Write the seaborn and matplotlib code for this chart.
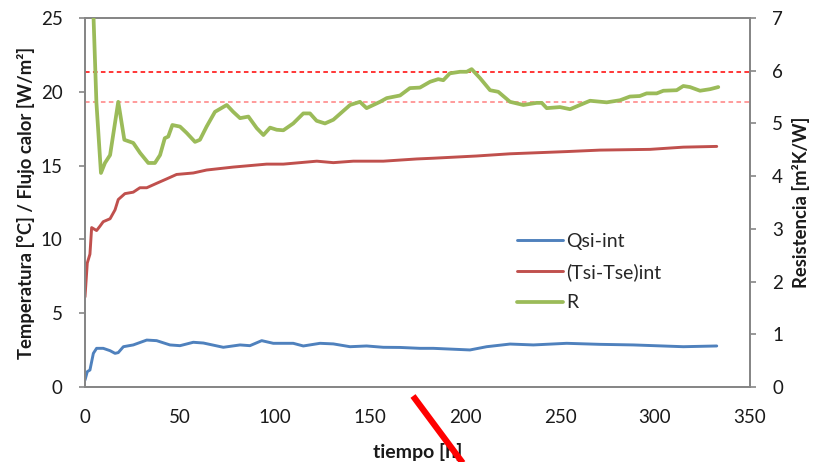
import matplotlib
matplotlib.use("Agg")
import matplotlib.pyplot as plt
from matplotlib.lines import Line2D
import seaborn as sns

# ---- data ----
t_q = [0, 1.2, 2.6, 4.4, 6.1, 9.6, 13.2, 15.8, 17.5, 20.2, 25.4, 32.5, 37.7, 44.7, 50, 57, 62.3,
       72.8, 81.6, 86.8, 93, 99.1, 109.6, 114.9, 123.7, 130.7, 139.5, 148.2, 157, 165.8, 176.3,
       183.3, 202.6, 211.4, 223.7, 236, 253.5, 271, 288.6, 314.9, 332.5]
q_si = [0.47, 1.04, 1.15, 2.28, 2.62, 2.62, 2.46, 2.28, 2.33, 2.73, 2.85, 3.18, 3.14, 2.85, 2.80,
        3.03, 2.98, 2.69, 2.85, 2.80, 3.14, 2.96, 2.96, 2.78, 2.96, 2.92, 2.73, 2.78, 2.69, 2.68,
        2.62, 2.62, 2.51, 2.73, 2.91, 2.85, 2.96, 2.89, 2.85, 2.73, 2.78]

t_dt = [0, 1.2, 2.6, 3.5, 6.1, 7.9, 9.6, 13.2, 15.8, 17.5, 21, 25.4, 28.9, 32.5, 37.7, 43, 48.2,
        57, 64, 71, 78, 86.8, 95.6, 104.4, 113.2, 122, 130.7, 141.2, 157, 174.6, 183.3, 206,
        223.7, 253.5, 271, 297.4, 314.9, 332.5]
dt_int = [6.1, 8.4, 9.0, 10.8, 10.6, 10.9, 11.2, 11.4, 12.0, 12.7, 13.1, 13.2, 13.5, 13.5, 13.8,
          14.1, 14.4, 14.5, 14.7, 14.8, 14.9, 15.0, 15.1, 15.1, 15.2, 15.3, 15.2, 15.3, 15.3,
          15.45, 15.5, 15.65, 15.8, 15.95, 16.05, 16.1, 16.25, 16.3]

t_r = [3, 4.5, 6.0, 8.4, 10.5, 13.2, 17.5, 20.7, 25.4, 29, 33.3, 36.8, 39.5, 42, 43.8, 46, 50,
       53.5, 57.9, 60.5, 64, 68.4, 74.6, 78, 81.6, 86, 90.4, 93.9, 97.4, 100.9, 104.4, 109.6,
       114.9, 118.4, 121.9, 126.3, 130.7, 139.5, 144.7, 148.2, 155.3, 158.8, 165.8, 171, 176.3,
       181.6, 185.9, 188.6, 192, 197.4, 200.9, 203.5, 207.9, 213.2, 217.5, 223.7, 230.7, 237.7,
       240.4, 243, 250, 255.3, 260.5, 265.8, 274.6, 281.6, 286.8, 292, 295.6, 300.9, 304.4,
       311.4, 314.9, 318.4, 323.7, 329, 333.3]
r_val = [9.0, 7.0, 5.4, 4.06, 4.25, 4.40, 5.41, 4.69, 4.63, 4.44, 4.25, 4.25, 4.40, 4.72, 4.75,
         4.97, 4.94, 4.82, 4.65, 4.69, 4.94, 5.22, 5.35, 5.22, 5.10, 5.13, 4.91, 4.78, 4.92, 4.88,
         4.87, 5.00, 5.19, 5.19, 5.05, 5.00, 5.07, 5.35, 5.41, 5.29, 5.41, 5.48, 5.53, 5.67, 5.68,
         5.79, 5.84, 5.82, 5.95, 5.98, 5.98, 6.03, 5.86, 5.63, 5.60, 5.41, 5.35, 5.39, 5.39, 5.29,
         5.31, 5.27, 5.35, 5.43, 5.40, 5.44, 5.51, 5.52, 5.57, 5.57, 5.62, 5.63, 5.71, 5.69, 5.62,
         5.65, 5.69]

ref_levels = [5.98, 5.40]
series_labels = ["Qsi-int", "(Tsi-Tse)int", "R"]
x_ticks = [0, 50, 100, 150, 200, 250, 300, 350]
y_ticks = [0, 5, 10, 15, 20, 25]
y2_ticks = [0, 1, 2, 3, 4, 5, 6, 7]

# ---- style ----
sns.set_style("white")
plt.rcParams['font.family'] = ['Lato', 'DejaVu Sans']

BLUE = "#4f81bd"
RED = "#c0504d"
GREEN = "#9bbb59"
SPINE = "#868686"
TXT = "#1a1a1a"

fig = plt.figure(figsize=(8.15, 4.62), dpi=100)
ax = fig.add_axes([85 / 815, 1 - 387 / 462, 665 / 815, 369 / 462])
ax2 = ax.twinx()

sns.lineplot(x=t_q, y=q_si, ax=ax, color=BLUE, linewidth=2.1, estimator=None, sort=False)
sns.lineplot(x=t_dt, y=dt_int, ax=ax, color=RED, linewidth=2.1, estimator=None, sort=False)

ax2.axhline(ref_levels[0], color="#ff0000", linestyle=(0, (3, 2.2)), linewidth=1.1, zorder=1)
ax2.axhline(ref_levels[1], color="#ff8080", linestyle=(0, (3, 2.2)), linewidth=1.1, zorder=1)
sns.lineplot(x=t_r, y=r_val, ax=ax2, color=GREEN, linewidth=2.7, estimator=None, sort=False)
ax2.lines[-1].set_zorder(3)

ax.set_xlim(0, 350)
ax.set_ylim(0, 25)
ax2.set_ylim(0, 7)
ax.set_xticks(x_ticks)
ax.set_yticks(y_ticks)
ax2.set_yticks(y2_ticks)

for a in (ax, ax2):
    for s in a.spines.values():
        s.set_color(SPINE)
        s.set_linewidth(1.3)
    a.tick_params(colors=SPINE, labelcolor=TXT, length=4, width=1.2, direction="out",
                  labelsize=13.5, pad=12)
    a.grid(False)

ax.set_xlabel("tiempo [h]", fontsize=14, fontweight="bold", color=TXT, labelpad=12)
ax.set_ylabel("Temperatura [°C] / Flujo calor [W/m²]", fontsize=13.3, fontweight="bold",
              color=TXT, labelpad=4)
ax2.set_ylabel("Resistencia [m²K/W]", fontsize=13.3, fontweight="bold", color=TXT, labelpad=6)

handles = [Line2D([], [], color=BLUE, lw=2.1), Line2D([], [], color=RED, lw=2.1),
           Line2D([], [], color=GREEN, lw=2.7)]
ax2.legend(handles, series_labels, loc="upper left", bbox_to_anchor=(517 / 815, 1 - 233 / 462),
           bbox_transform=fig.transFigure, frameon=False, fontsize=14, handlelength=2.35,
           handletextpad=0.2, labelspacing=0.68, borderpad=0, borderaxespad=0)

# red slash annotation over the x-axis label
fig.add_artist(Line2D([413 / 815, 465 / 815], [1 - 396 / 462, 1 - 466 / 462],
                      transform=fig.transFigure, color="#ff0000", linewidth=4.5,
                      solid_capstyle="butt"))

fig.savefig("out.png", dpi=100)
